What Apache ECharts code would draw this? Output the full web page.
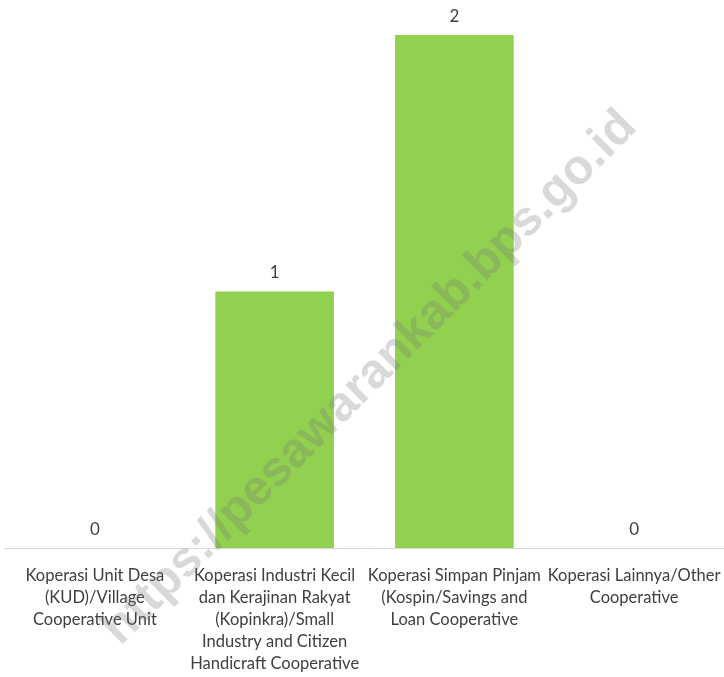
<!DOCTYPE html>
<html>
<head>
<meta charset="utf-8">
<script src="https://cdn.jsdelivr.net/npm/echarts@6/dist/echarts.min.js"></script>
<style>html,body{margin:0;padding:0;background:#fff;}#c{width:724px;height:677px;}</style>
</head>
<body>
<div id="c"></div>
<script>
const categories = [
  "Koperasi Unit Desa\n(KUD)/Village\nCooperative Unit",
  "Koperasi Industri Kecil\ndan Kerajinan Rakyat\n(Kopinkra)/Small\nIndustry and Citizen\nHandicraft Cooperative",
  "Koperasi Simpan Pinjam\n(Kospin/Savings and\nLoan Cooperative",
  "Koperasi Lainnya/Other\nCooperative"
];
const values = [0, 1, 2, 0];
const watermark = "https://pesawarankab.bps.go.id";

const chart = echarts.init(document.getElementById('c'));
chart.setOption({
  animation: false,
  grid: { left: 5, right: 0, top: 35, bottom: 129 },
  xAxis: {
    type: 'category',
    data: categories,
    axisLine: { lineStyle: { color: '#d9d9d9', width: 1 } },
    axisTick: { show: false },
    axisLabel: {
      interval: 0, margin: 17, color: '#404040',
      fontFamily: 'Lato', fontSize: 16.5, lineHeight: 22, align: 'center'
    }
  },
  yAxis: {
    type: 'value', min: 0, max: 2, show: false,
    splitLine: { show: false }
  },
  series: [{
    type: 'bar',
    data: values,
    barWidth: '66%',
    itemStyle: { color: '#92d050' },
    label: {
      show: true, position: 'top', distance: 10,
      color: '#404040', fontFamily: 'Lato', fontSize: 17
    }
  }],
  graphic: [{
    type: 'text',
    x: 370, y: 378,
    rotation: 45 * Math.PI / 180,
    z: 100,
    style: {
      text: watermark,
      fontFamily: 'Liberation Sans',
      fontWeight: 'bold',
      fontSize: 49,
      fill: 'rgba(120,120,120,0.28)',
      align: 'center',
      verticalAlign: 'middle'
    }
  }]
});
</script>
</body>
</html>
